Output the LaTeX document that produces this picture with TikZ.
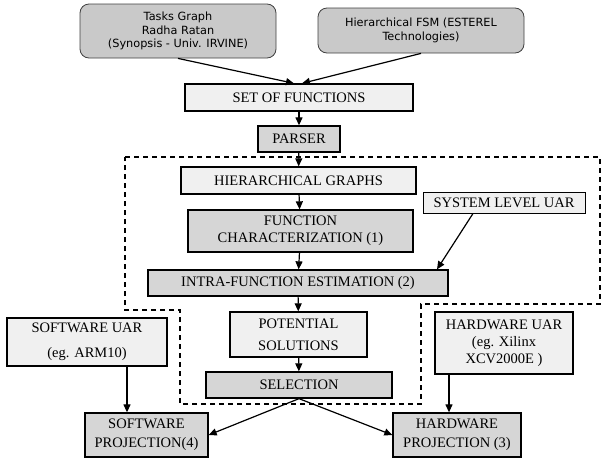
\documentclass[tikz,border=0pt]{standalone}
\usepackage{fontspec}
\setmainfont{Liberation Serif}
\newfontfamily\boxsans{DejaVu Sans}
\usetikzlibrary{arrows.meta}

\begin{document}
\begin{tikzpicture}[x=1pt, y=-1pt, >={Triangle[length=8pt,width=7pt]},
    source/.style={draw=black!75, fill=gray!42, rounded corners=9pt, line width=0.8pt,
        font=\boxsans\fontsize{11.3}{13.5}\selectfont, align=center, inner sep=0pt},
    stage/.style={draw, fill=gray!32, line width=1.3pt,
        font=\fontsize{14.5}{17}\selectfont, align=center, inner sep=0pt},
    input/.style={stage, fill=gray!12},
    link/.style={line width=1.2pt}]

    \useasboundingbox (0,0) rectangle (603,461);

    % the two sources
    \node[source, minimum width=196pt, minimum height=54pt] (tasks) at (178, 31)
        {Tasks Graph\\Radha Ratan\\(Synopsis - Univ. IRVINE)};
    \node[source, minimum width=206pt, minimum height=45pt] (fsm) at (421, 30.5)
        {Hierarchical FSM (ESTEREL\\Technologies)};

    \node[input, minimum width=228pt, minimum height=27pt] (set) at (299, 97.5) {SET OF FUNCTIONS};
    \node[stage, minimum width=82pt, minimum height=26pt] (parser) at (299, 139) {PARSER};

    % estimation flow
    \node[input, minimum width=235pt, minimum height=27pt] (hgraphs) at (298.5, 180.5) {HIERARCHICAL GRAPHS};
    \node[input, minimum width=162pt, minimum height=21pt, line width=1pt] (syslevel) at (504, 202.5) {SYSTEM LEVEL UAR};
    \node[stage, minimum width=225pt, minimum height=42pt] (funchar) at (300.5, 231)
        {FUNCTION\\CHARACTERIZATION (1)};
    \node[stage, minimum width=300pt, minimum height=26pt] (intra) at (298, 283) {INTRA-FUNCTION ESTIMATION (2)};
    \node[input, minimum width=137pt, minimum height=45pt] (potential) at (298.5, 334.5)
        {POTENTIAL\\[5pt]SOLUTIONS};
    \node[stage, minimum width=186pt, minimum height=26pt] (selection) at (299, 385) {SELECTION};

    % targets
    \node[input, minimum width=160pt, minimum height=48pt] (swuar) at (87, 342)
        {SOFTWARE UAR\\[8pt](eg. ARM10)};
    \node[input, minimum width=138pt, minimum height=62pt] (hwuar) at (504, 343)
        {HARDWARE UAR\\(eg. Xilinx\\XCV2000E )};
    \node[stage, minimum width=123pt, minimum height=44pt] (swproj) at (146.5, 435)
        {SOFTWARE\\[2pt]PROJECTION(4)};
    \node[stage, minimum width=128pt, minimum height=44pt] (hwproj) at (457, 435)
        {HARDWARE\\[2pt]PROJECTION (3)};

    \draw[line width=1.2pt, dash pattern=on 5pt off 4pt]
        (125,157) -- (600,157) -- (600,304) -- (421,304) -- (421,404)
        -- (180,404) -- (180,310) -- (125,310) -- cycle;

    \path[->, link]
        (tasks.south) edge ([xshift=-5pt]set.north)
        (fsm.south) edge ([xshift=3pt]set.north)
        (set) edge (parser)
        (parser) edge (hgraphs)
        (hgraphs) edge (funchar)
        (funchar) edge (intra)
        ([xshift=-31pt]syslevel.south) edge ([xshift=139pt]intra.north)
        (intra) edge (potential)
        (potential) edge (selection)
        (selection.south) edge (swproj.east)
        (selection.south) edge (hwproj.west)
        ([xshift=40pt]swuar.south) edge ([xshift=40pt]swuar.south |- swproj.north)
        ([xshift=-55pt]hwuar.south) edge ([xshift=-55pt]hwuar.south |- hwproj.north);
\end{tikzpicture}
\end{document}
